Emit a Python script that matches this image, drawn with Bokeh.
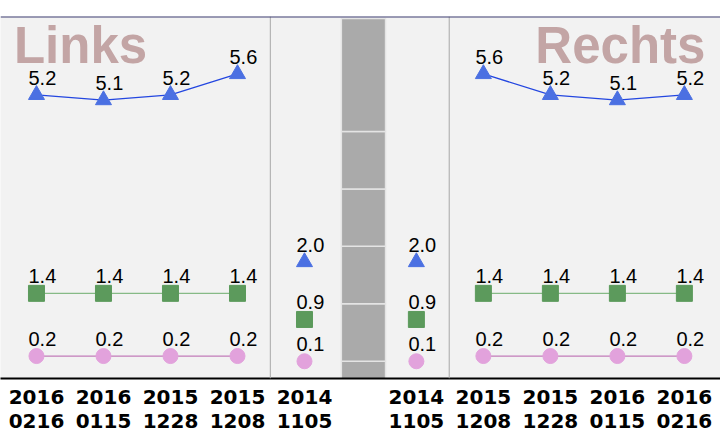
from bokeh.plotting import figure
from bokeh.models import Range1d, FixedTicker, Span, ColumnDataSource, Label
from bokeh.core.properties import value
from bokeh.embed import file_html
from bokeh.resources import INLINE

# ---- data ----
left_dates = ["2016\n0216", "2016\n0115", "2015\n1228", "2015\n1208"]
center_date = "2014\n1105"
right_dates = ["2015\n1208", "2015\n1228", "2016\n0115", "2016\n0216"]

left_tri = [5.2, 5.1, 5.2, 5.6]
left_sq = [1.4, 1.4, 1.4, 1.4]
left_circ = [0.2, 0.2, 0.2, 0.2]

center_tri = 2.0
center_sq = 0.9
center_circ = 0.1

right_tri = [5.6, 5.2, 5.1, 5.2]
right_sq = [1.4, 1.4, 1.4, 1.4]
right_circ = [0.2, 0.2, 0.2, 0.2]

bar_levels = [-0.4, 0.1, 1.2, 2.3, 3.4, 4.5, 6.66]

# ---- slot layout ----
left_x = [0.0, 1.0, 2.0, 3.0]
center_x = [4.0, 5.67]
right_x = [6.67, 7.67, 8.67, 9.67]
bar_left, bar_right = 4.55, 5.21
sep_positions = [3.49, 6.16]

X0, X1 = -0.537, 10.209
Y0, Y1 = -0.23, 6.7
FRAME_W, FRAME_H = 720, 362
PX_PER_UNIT = FRAME_H / (Y1 - Y0)
LABEL_LIFT = 17 / PX_PER_UNIT
TITLE_Y = Y1 - 29 / PX_PER_UNIT

FONT_NAME = "Liberation Sans"
FONT = value(FONT_NAME)
TRI_C, SQ_C, CIRC_C = "#4b70e2", "#5c9a5c", "#e2a2dc"
TRI_L, SQ_L, CIRC_L = "#2346e0", "#86ba86", "#c27cb9"

p = figure(frame_width=FRAME_W, frame_height=FRAME_H,
           x_range=Range1d(X0, X1), y_range=Range1d(Y0, Y1),
           output_backend="svg", toolbar_location=None,
           y_axis_location=None,
           min_border_top=16, min_border_left=0, min_border_right=0, min_border_bottom=0,
           background_fill_color="#f2f2f2", border_fill_color="white",
           outline_line_color=None)
p.grid.visible = False

# gray center bar
p.quad(left=bar_left, right=bar_right, bottom=bar_levels[:-1], top=bar_levels[1:],
       fill_color="#aaaaaa", line_color="#e4e4e4", line_width=1.5)

# separators
for sx in sep_positions:
    p.add_layout(Span(location=sx, dimension="height", line_color="#a8a8a8", line_width=1))
p.add_layout(Span(location=Y1, dimension="width", line_color="#3f3f72", line_width=2))

# panel titles
p.add_layout(Label(x=X0 + 0.2, y=TITLE_Y, text="Links", text_font=FONT_NAME, text_font_style="bold",
                   text_font_size="51px", text_color="#c3a5a5", text_align="left",
                   text_baseline="middle"))
p.add_layout(Label(x=X1 - 0.225, y=TITLE_Y, text="Rechts", text_font=FONT_NAME, text_font_style="bold",
                   text_font_size="51px", text_color="#c3a5a5", text_align="right",
                   text_baseline="middle"))

def series(xs, ys, marker, fill, line_color, size, connect=True):
    src = ColumnDataSource(dict(x=xs, y=ys, ly=[v + LABEL_LIFT for v in ys],
                                t=["%.1f" % v for v in ys]))
    if connect:
        p.line("x", "y", source=src, line_color=line_color, line_width=1.3)
    p.scatter("x", "y", source=src, marker=marker, size=size,
              fill_color=fill, line_color=fill)
    p.text("x", "ly", text="t", source=src, text_align="left", text_baseline="middle",
           x_offset=-8, text_font=FONT, text_font_size="20px", text_color="black")

series(left_x, left_tri, "triangle", TRI_C, TRI_L, 16)
series(left_x, left_sq, "square", SQ_C, SQ_L, 16)
series(left_x, left_circ, "circle", CIRC_C, CIRC_L, 15)
series(right_x, right_tri, "triangle", TRI_C, TRI_L, 16)
series(right_x, right_sq, "square", SQ_C, SQ_L, 16)
series(right_x, right_circ, "circle", CIRC_C, CIRC_L, 15)
series(center_x, [center_tri] * 2, "triangle", TRI_C, TRI_L, 16, connect=False)
series(center_x, [center_sq] * 2, "square", SQ_C, SQ_L, 16, connect=False)
series(center_x, [center_circ] * 2, "circle", CIRC_C, CIRC_L, 15, connect=False)

# x axis
ticks = left_x + center_x + right_x
labels = left_dates + [center_date, center_date] + right_dates
p.xaxis.ticker = FixedTicker(ticks=ticks)
p.xaxis.major_label_overrides = {t: l for t, l in zip(ticks, labels)}
p.xaxis.major_tick_line_color = None
p.xaxis.minor_tick_line_color = None
p.xaxis.axis_line_color = "black"
p.xaxis.axis_line_width = 2
p.xaxis.major_label_standoff = 0
p.xaxis.major_label_text_font = "DejaVu Sans"
p.xaxis.major_label_text_font_style = "bold"
p.xaxis.major_label_text_font_size = "20px"
p.xaxis.major_label_text_color = "black"
p.xaxis.major_label_text_line_height = 1.03

open("out.html", "w").write(file_html(p, INLINE))
